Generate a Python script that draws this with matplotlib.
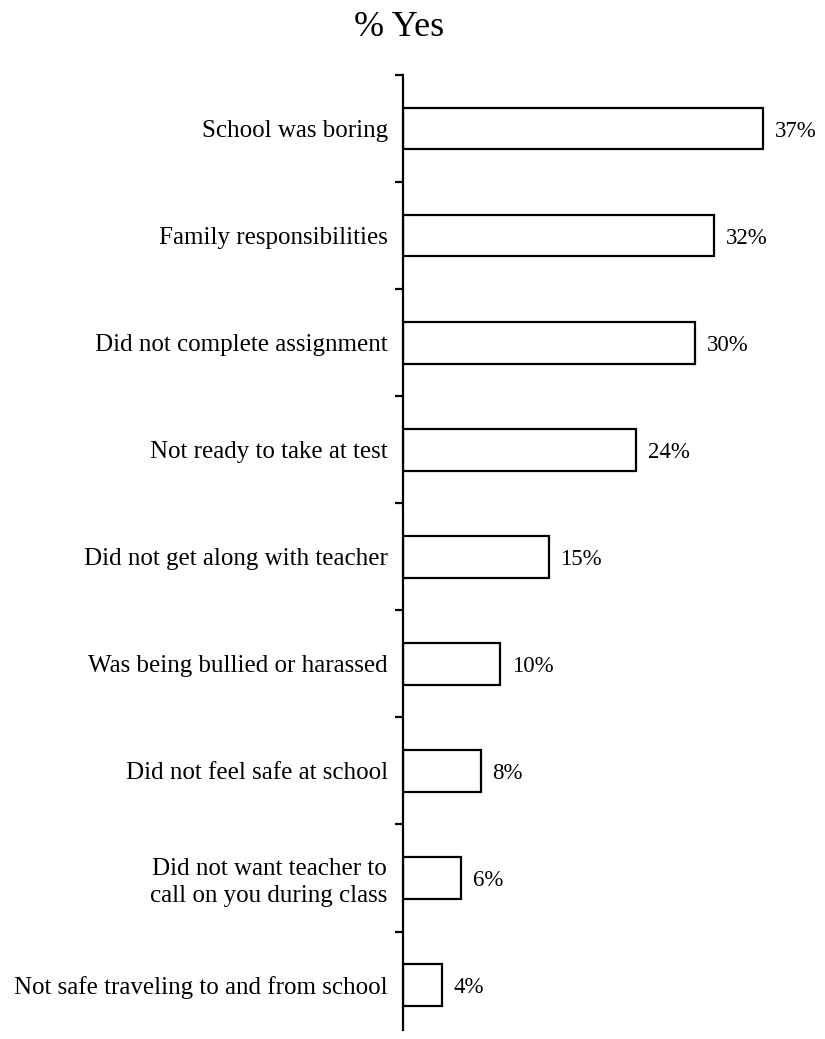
import matplotlib
matplotlib.use("Agg")
import matplotlib.pyplot as plt
import numpy as np

categories = [
    "School was boring",
    "Family responsibilities",
    "Did not complete assignment",
    "Not ready to take at test",
    "Did not get along with teacher",
    "Was being bullied or harassed",
    "Did not feel safe at school",
    "Did not want teacher to\ncall on you during class",
    "Not safe traveling to and from school",
]
values = [37, 32, 30, 24, 15, 10, 8, 6, 4]
title = "% Yes"

plt.rcParams['font.family'] = ['Liberation Serif', 'DejaVu Serif']

W, H = 825, 1039
fig = plt.figure(figsize=(W / 100, H / 100), dpi=100)
ax = fig.add_axes([403 / W, 1 - 1030 / H, (792 - 403) / W, (1030 - 75) / H])

y = np.arange(len(categories))
ax.barh(y, values, height=0.39, color='white', edgecolor='black', linewidth=1.6)
for yi, v in zip(y, values):
    ax.text(v + 1.2, yi, f"{v}%", va='center_baseline', ha='left', fontsize=16.5)

ax.set_xlim(0, 40)
ax.set_ylim(len(categories) - 1 + 0.42, -0.5)
ax.set_yticks(y)
ax.set_yticklabels(categories, fontsize=18, multialignment='center',
                   linespacing=1.25)
ax.tick_params(axis='y', which='major', length=0, pad=11)
ax.set_yticks(np.arange(-0.5, len(categories) - 1, 1.0), minor=True)
ax.tick_params(axis='y', which='minor', length=6, width=1.6, direction='out')
ax.set_xticks([])
for s in ['top', 'right', 'bottom']:
    ax.spines[s].set_visible(False)
ax.spines['left'].set_linewidth(1.6)

fig.text(399 / W, 1 - 27 / H, title, ha='center', va='center', fontsize=26)

fig.savefig("out.png", dpi=100)
